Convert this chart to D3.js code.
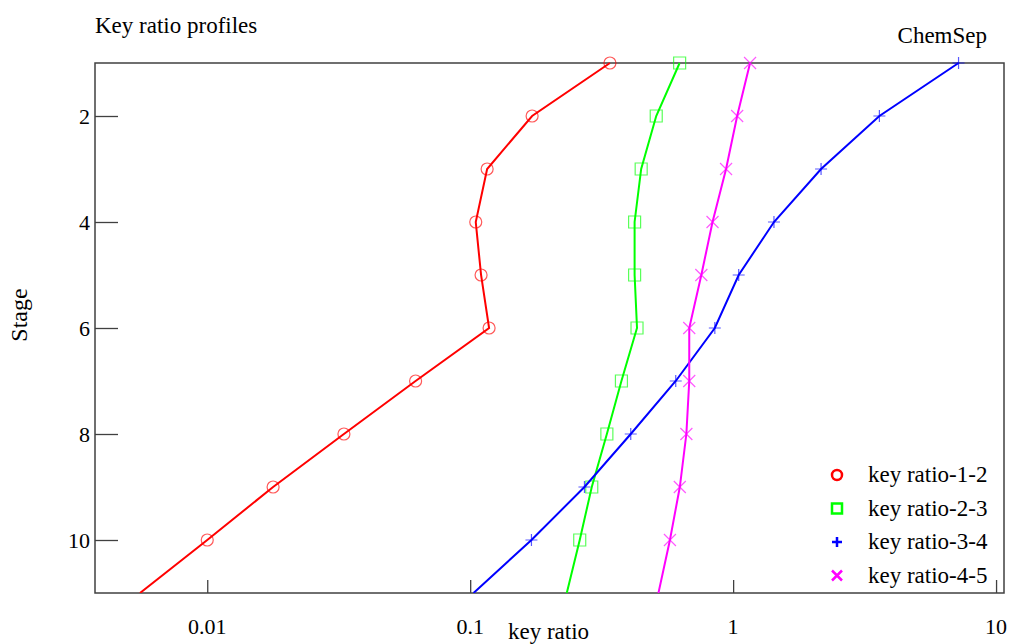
<!DOCTYPE html>
<html>
<head>
<meta charset="utf-8">
<script src="https://d3js.org/d3.v7.min.js"></script>
<style>
	body { margin: 0; background: #fff; }
	text { font-family: "Liberation Serif", "Times New Roman", serif; fill: #000; }
	.tick_label { font-size: 22px; }
	.axis_title, .chart_title, .legend_text { font-size: 23px; }
	.stage_title { font-size: 24px; }
</style>
</head>
<body>
<div id="chart"></div>
<script>

// stages on the column (stage 11 is only the line running out of the frame)
let stages = [1, 2, 3, 4, 5, 6, 7, 8, 9, 10, 11];

// key ratio values
let ratio_12 = [0.34, 0.172, 0.116, 0.105, 0.110, 0.118, 0.062, 0.0331, 0.0178, 0.0100, 0.00555];
let ratio_23 = [0.626, 0.51, 0.447, 0.422, 0.422, 0.431, 0.376, 0.331, 0.290, 0.261, 0.233];
let ratio_34 = [7.2, 3.6, 2.16, 1.43, 1.05, 0.852, 0.605, 0.408, 0.272, 0.171, 0.103];
let ratio_45 = [1.16, 1.036, 0.94, 0.835, 0.757, 0.681, 0.681, 0.664, 0.627, 0.575, 0.52];

let series_names = ["key ratio-1-2", "key ratio-2-3", "key ratio-3-4", "key ratio-4-5"];
let series_colors = ["#ff0000", "#00ff00", "#0000ff", "#ff00ff"];
let series_symbols = ["circle", "square", "plus", "cross"];

// ticks
let x_ticks = [0.01, 0.1, 1, 10];
let x_tick_labels = ["0.01", "0.1", "1", "10"];
let y_ticks = [2, 4, 6, 8, 10];

let series_values = [ratio_12, ratio_23, ratio_34, ratio_45];

draw_chart();

function draw_chart()
{
	let width = 1011, height = 644;
	let plot = {left: 95, top: 63, right: 1004, bottom: 593};

	let svg = d3.select("#chart")
		.append("svg")
		.attr("width", width)
		.attr("height", height);

	//scales
	let x_scale = d3.scaleLog()
		.domain([0.003742, 10.72])
		.range([plot.left, plot.right]);

	let y_scale = d3.scaleLinear()
		.domain([1, 11])
		.range([plot.top, plot.bottom]);

	//clip for lines
	svg.append("clipPath")
		.attr("id", "plot_clip")
		.append("rect")
		.attr("x", plot.left)
		.attr("y", plot.top - 10)
		.attr("width", plot.right - plot.left)
		.attr("height", plot.bottom - plot.top + 10);

	//frame
	svg.append("rect")
		.attr("x", plot.left)
		.attr("y", plot.top)
		.attr("width", plot.right - plot.left)
		.attr("height", plot.bottom - plot.top)
		.attr("fill", "none")
		.attr("stroke", "#404040")
		.attr("stroke-width", 1.5);

	//y axis, ticks inside
	let y_axis = d3.axisRight(y_scale)
		.tickValues(y_ticks)
		.tickSize(23)
		.tickFormat("");

	svg.append("g")
		.attr("transform", "translate(" + plot.left + ",0)")
		.call(y_axis)
		.call(g => g.select(".domain").remove())
		.selectAll("line")
		.attr("stroke", "#404040")
		.attr("stroke-width", 1.3);

	svg.selectAll(".y_label")
		.data(y_ticks)
		.enter()
		.append("text")
		.attr("class", "tick_label y_label")
		.attr("text-anchor", "end")
		.attr("x", plot.left - 5)
		.attr("y", d => y_scale(d) + 8)
		.text(d => d);

	//x axis, ticks inside
	let x_axis = d3.axisTop(x_scale)
		.tickValues(x_ticks)
		.tickSize(13)
		.tickFormat("");

	svg.append("g")
		.attr("transform", "translate(0," + plot.bottom + ")")
		.call(x_axis)
		.call(g => g.select(".domain").remove())
		.selectAll("line")
		.attr("stroke", "#404040")
		.attr("stroke-width", 1.3);

	svg.selectAll(".x_label")
		.data(x_ticks)
		.enter()
		.append("text")
		.attr("class", "tick_label x_label")
		.attr("text-anchor", "middle")
		.attr("x", d => x_scale(d))
		.attr("y", 634)
		.text((d, i) => x_tick_labels[i]);

	//axis titles
	svg.append("text")
		.attr("class", "axis_title")
		.attr("x", 508)
		.attr("y", 639)
		.text("key ratio");

	svg.append("text")
		.attr("class", "stage_title")
		.attr("text-anchor", "middle")
		.attr("transform", "translate(27,315) rotate(-90)")
		.text("Stage");

	//titles
	svg.append("text")
		.attr("class", "chart_title")
		.attr("x", 95)
		.attr("y", 33)
		.text("Key ratio profiles");

	svg.append("text")
		.attr("class", "chart_title")
		.attr("text-anchor", "end")
		.attr("x", 987)
		.attr("y", 43)
		.text("ChemSep");

	//lines
	let line = d3.line()
		.x(d => x_scale(d.value))
		.y(d => y_scale(d.stage));

	let lines_g = svg.append("g").attr("clip-path", "url(#plot_clip)");

	series_values.forEach((values, s) => {
		let pts = stages.map((st, i) => ({stage: st, value: values[i]}));

		lines_g.append("path")
			.datum(pts)
			.attr("fill", "none")
			.attr("stroke", series_colors[s])
			.attr("stroke-width", 2)
			.attr("d", line);

		//markers on stages 1..10
		lines_g.selectAll(".mark_" + s)
			.data(pts.filter(p => p.stage <= 10))
			.enter()
			.append("path")
			.attr("class", "mark_" + s)
			.attr("transform", d => "translate(" + x_scale(d.value) + "," + y_scale(d.stage) + ")")
			.attr("d", symbol_path(series_symbols[s], 6))
			.attr("fill", "none")
			.attr("stroke", series_colors[s])
			.attr("stroke-opacity", 0.65)
			.attr("stroke-width", 1.2);
	});

	//legend
	let legend = svg.append("g");
	series_names.forEach((name, s) => {
		let ly = 475 + s * 33.5;
		legend.append("path")
			.attr("transform", "translate(837," + ly + ")")
			.attr("d", symbol_path(series_symbols[s], 5))
			.attr("fill", "none")
			.attr("stroke", series_colors[s])
			.attr("stroke-width", 2.5);
		legend.append("text")
			.attr("class", "legend_text")
			.attr("x", 868)
			.attr("y", ly + 7)
			.text(name);
	});
}

function symbol_path(type, r)
{
	/**
	 * Helper to build a marker path centred on 0,0
	 */
	if (type === "circle") {
		let p = d3.path();
		p.arc(0, 0, r, 0, 2 * Math.PI);
		return p.toString();
	}
	if (type === "square") {
		return "M" + (-r) + "," + (-r) + "H" + r + "V" + r + "H" + (-r) + "Z";
	}
	if (type === "plus") {
		return "M" + (-r) + ",0H" + r + "M0," + (-r) + "V" + r;
	}
	return "M" + (-r) + "," + (-r) + "L" + r + "," + r + "M" + (-r) + "," + r + "L" + r + "," + (-r);
}

</script>
</body>
</html>
